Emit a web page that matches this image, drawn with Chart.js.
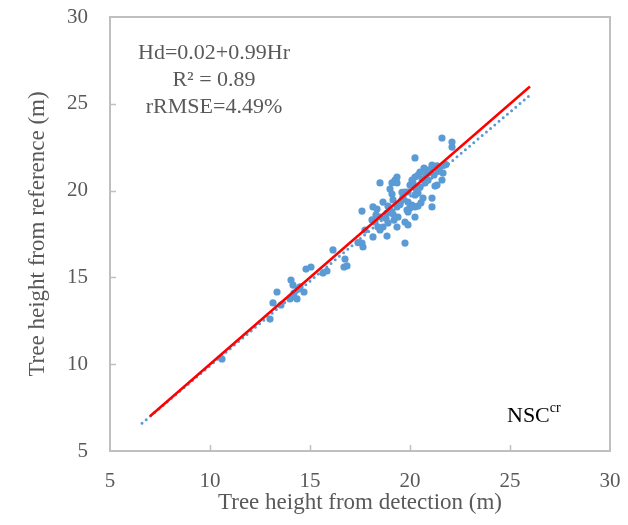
<!DOCTYPE html>
<html>
<head>
<meta charset="utf-8">
<script src="https://cdn.jsdelivr.net/npm/chart.js@4.4.1/dist/chart.umd.min.js"></script>
<style>
    html, body { margin: 0; padding: 0; background: #fff; }
    #wrap { width: 628px; height: 525px; }
</style>
</head>
<body>
<div id="wrap"><canvas id="chart" width="628" height="525"></canvas></div>
<script>
// Data
const detected = [
    10.6, 13.0, 13.15, 13.35, 13.55, 14.05, 14.15, 14.5, 14.4, 14.7, 14.2, 14.1, 14.0, 14.35,
    14.8, 15.05, 15.85, 15.65, 16.15, 16.75, 16.85, 16.7, 17.4,
    18.5, 19.1, 19.25, 19.35, 19.0, 18.65, 19.15, 17.6, 18.15, 18.35, 18.1, 18.25, 18.5, 18.85,
    19.0, 19.15, 18.65, 18.5, 18.9, 17.75, 18.15, 18.85, 17.6, 17.65, 19.35,
    21.6, 22.1, 22.1, 20.25, 21.1, 21.35, 21.5, 20.5, 20.75, 20.9, 21.65, 21.6, 20.25, 20.4,
    20.15, 20.0, 20.6, 20.75, 21.25, 21.35, 19.75, 19.9, 20.25, 20.4, 19.65, 19.6, 20.65, 21.1,
    21.1, 19.9, 20.1, 20.25, 20.4, 19.85, 19.9, 19.35, 19.4, 20.25, 19.75, 19.9, 19.75, 19.3, 19.35,
    20.5, 20.9, 21.0, 20.3, 19.6, 19.5, 20.8, 21.4, 19.2, 18.8, 18.3, 18.9, 20.1, 20.7, 21.8,
    20.0, 19.1, 18.4, 21.2, 20.55
];
const reference = [
    10.3, 12.6, 13.53, 14.16, 13.41, 14.85, 14.56, 14.45, 14.33, 14.16, 14.1, 13.87, 13.76, 13.76,
    15.48, 15.6, 15.37, 15.25, 16.58, 16.06, 15.66, 15.6, 17.0,
    20.44, 20.44, 20.61, 20.78, 20.09, 19.34, 19.46, 18.82, 19.06, 18.94, 18.31, 18.19, 18.48, 18.71,
    18.88, 18.65, 17.9, 17.73, 18.13, 17.73, 17.33, 17.38, 16.98, 16.75, 17.9,
    23.03, 22.8, 22.51, 21.88, 21.47, 21.42, 21.36, 21.07, 21.24, 21.01, 21.01, 20.61, 20.78, 20.9,
    20.44, 20.32, 20.67, 20.44, 20.26, 20.32, 19.92, 19.92, 19.75, 19.86, 19.63, 19.46, 19.57, 19.57,
    19.06, 19.34, 19.17, 19.06, 19.11, 18.88, 18.77, 19.06, 18.48, 18.48, 18.19, 18.02, 16.98, 20.61, 20.44,
    20.2, 20.6, 21.2, 20.1, 19.9, 19.2, 20.9, 21.1, 18.3, 18.4, 18.6, 19.1, 20.6, 21.3, 21.5,
    19.0, 19.8, 17.9, 20.9, 19.3
];

// 1:1 line and fitted trend line end points
const oneToOneX = [7, 26];
const oneToOneY = [7, 26];
const trendX = [6.6, 26];
const trendY = [6.6, 25.5];

const axisTicks = [5, 10, 15, 20, 25, 30];
const statLines = ["Hd=0.02+0.99Hr", "R\u00B2 = 0.89", "rRMSE=4.49%"];
const siteLabel = "NSC";
const siteSup = "cr";

// Helpers
const toPoints = (xs, ys) => xs.map((x, i) => ({x: x, y: ys[i]}));

const serif = "'Liberation Serif', 'Times New Roman', serif";
const grey = "#595959";
const frameColor = "#BFBFBF";

// Plugin: frame, inner ticks and text
const framePlugin = {
    id: "frame",
    afterDraw(chart) {
        const ctx = chart.ctx;
        const xs = chart.scales.x;
        const ys = chart.scales.y;
        const left = xs.left, right = xs.right, top = ys.top, bottom = ys.bottom;
        ctx.save();
        ctx.strokeStyle = frameColor;
        ctx.lineWidth = 2;
        ctx.strokeRect(left, top, right - left, bottom - top);
        ctx.beginPath();
        axisTicks.slice(1, -1).forEach(v => {
            let px = Math.round(xs.getPixelForValue(v)) + 0.5;
            ctx.moveTo(px, bottom);
            ctx.lineTo(px, bottom - 6);
            let py = Math.round(ys.getPixelForValue(v)) + 0.5;
            ctx.moveTo(left, py);
            ctx.lineTo(left + 6, py);
        });
        ctx.lineWidth = 1.5;
        ctx.stroke();

        ctx.fillStyle = grey;
        ctx.font = "22px " + serif;
        ctx.textAlign = "center";
        ctx.textBaseline = "middle";
        statLines.forEach((t, i) => {
            ctx.fillText(t, 214, 53 + i * 27);
        });

        ctx.fillStyle = "#000";
        ctx.textAlign = "left";
        ctx.textBaseline = "alphabetic";
        ctx.font = "22px " + serif;
        ctx.fillText(siteLabel, 507, 422);
        let w = ctx.measureText(siteLabel).width;
        ctx.font = "14px " + serif;
        ctx.fillText(siteSup, 507 + w, 412);
        ctx.restore();
    }
};

new Chart(document.querySelector("#chart"), {
    type: "scatter",
    data: {
        datasets: [
            {
                label: "1:1",
                data: toPoints(oneToOneX, oneToOneY),
                showLine: true,
                borderColor: "#FF0000",
                borderWidth: 2.5,
                pointRadius: 0
            },
            {
                label: "Trend",
                data: toPoints(trendX, trendY),
                showLine: true,
                borderColor: "#5B9BD5",
                borderWidth: 3,
                borderDash: [0, 5.5],
                borderCapStyle: "round",
                pointRadius: 0
            },
            {
                label: "Trees",
                data: toPoints(detected, reference),
                backgroundColor: "#5B9BD5",
                borderWidth: 0,
                pointRadius: 3.6
            }
        ]
    },
    options: {
        responsive: false,
        animation: false,
        layout: {
            padding: 0
        },
        plugins: {
            legend: {display: false},
            tooltip: {enabled: false}
        },
        scales: {
            x: {
                type: "linear",
                min: 5,
                max: 30,
                afterBuildTicks: s => { s.ticks = axisTicks.map(v => ({value: v})); },
                afterFit: s => {
                    s.height = 74;
                    s.paddingLeft = 0;
                    s.paddingRight = 18;
                },
                grid: {display: false, drawTicks: false},
                border: {display: false},
                ticks: {
                    color: grey,
                    padding: 18,
                    maxRotation: 0,
                    font: {family: serif, size: 21}
                },
                title: {
                    display: true,
                    text: "Tree height from detection (m)",
                    color: grey,
                    padding: {top: 0, bottom: 8},
                    font: {family: serif, size: 23}
                }
            },
            y: {
                type: "linear",
                min: 5,
                max: 30,
                afterBuildTicks: s => { s.ticks = axisTicks.map(v => ({value: v})); },
                afterFit: s => {
                    s.width = 110;
                    s.paddingTop = 17;
                    s.paddingBottom = 0;
                },
                grid: {display: false, drawTicks: false},
                border: {display: false},
                ticks: {
                    color: grey,
                    padding: 22,
                    font: {family: serif, size: 21}
                },
                title: {
                    display: true,
                    text: "Tree height from reference (m)",
                    color: grey,
                    padding: {top: 24, bottom: 0},
                    font: {family: serif, size: 23}
                }
            }
        }
    },
    plugins: [framePlugin]
});
</script>
</body>
</html>
